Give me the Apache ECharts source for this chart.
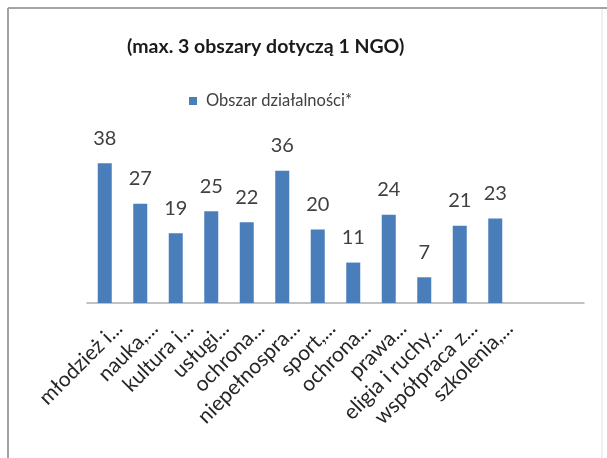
<!DOCTYPE html>
<html>
<head>
<meta charset="utf-8">
<script src="https://cdn.jsdelivr.net/npm/echarts@6/dist/echarts.min.js"></script>
<style>
html,body{margin:0;padding:0;background:#fff;}
#c{width:607px;height:458px;}
</style>
</head>
<body>
<div id="c"></div>
<script>
const titleText = '(max. 3 obszary dotyczą 1 NGO)';
const seriesName = 'Obszar działalności*';
const categories = ['młodzież i...', 'nauka,...', 'kultura i...', 'usługi...', 'ochrona...', 'niepełnospra...', 'sport,...', 'ochrona...', 'prawa...', 'eligia i ruchy...', 'współpraca z...', 'szkolenia,...'];
const values = [38, 27, 19, 25, 22, 36, 20, 11, 24, 7, 21, 23];
const emptySlots = ['', ''];

const chart = echarts.init(document.getElementById('c'), null, {renderer: 'canvas'});
const font = 'Lato, "Open Sans", sans-serif';
chart.setOption({
  animation: false,
  backgroundColor: '#fff',
  title: {
    text: titleText,
    left: 127, top: 37, padding: 0,
    textStyle: {fontFamily: font, fontSize: 19.5, fontWeight: 'bold', color: '#1a1a1a'}
  },
  legend: {
    data: [seriesName],
    left: 189, top: 92, padding: 0,
    itemWidth: 8, itemHeight: 8,
    icon: 'rect',
    textStyle: {fontFamily: font, fontSize: 16.5, color: '#404040', lineHeight: 18, padding: [0, 0, 0, 4]}
  },
  grid: {left: 87, right: 23, top: 156, bottom: 155, containLabel: false},
  xAxis: {
    type: 'category',
    data: categories.concat(emptySlots),
    axisLine: {lineStyle: {color: '#adadad', width: 1.5}},
    axisTick: {show: false},
    axisLabel: {
      rotate: 45, interval: 0, margin: 36,
      padding: [0, -20, 0, 0],
      fontFamily: font, fontSize: 21, color: '#262626'
    }
  },
  yAxis: {
    type: 'value', min: 0, max: 40, show: false,
    splitLine: {show: false}
  },
  series: [{
    name: seriesName,
    type: 'bar',
    data: values,
    barWidth: 14,
    itemStyle: {color: '#4a7ebb'},
    label: {
      show: true, position: 'top', distance: 15,
      fontFamily: font, fontSize: 20, color: '#404040'
    }
  }],
  graphic: [
    {type: 'line', shape: {x1: 8, y1: 8, x2: 607, y2: 8}, style: {stroke: '#a3a3a3', lineWidth: 2}},
    {type: 'line', shape: {x1: 8, y1: 8, x2: 8, y2: 458}, style: {stroke: '#a3a3a3', lineWidth: 2}},
    {type: 'line', shape: {x1: 602, y1: 9, x2: 602, y2: 458}, style: {stroke: '#f0f0f0', lineWidth: 2}}
  ]
});
</script>
</body>
</html>
